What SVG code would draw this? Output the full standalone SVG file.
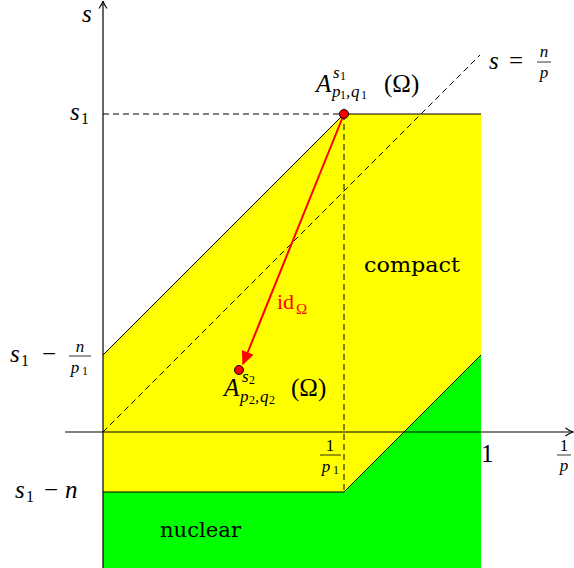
<svg xmlns="http://www.w3.org/2000/svg" width="574" height="568" viewBox="0 0 574 568">
<style>
.t{font-family:"Liberation Serif","DejaVu Serif",serif;fill:#000}
.w{font-family:"DejaVu Serif","Liberation Serif",serif;fill:#000}
.i{font-style:italic}
.ax{stroke:#000;stroke-width:1.2;fill:none}
.dash{stroke:#000;stroke-width:1;stroke-dasharray:6,4;fill:none}
.edge{stroke:#000;stroke-width:1;fill:none}
.fr{stroke:#000;stroke-width:0.8}
</style>
<defs>
<marker id="ah" viewBox="0 0 10 10" refX="9.5" refY="5" markerWidth="10" markerHeight="10" markerUnits="userSpaceOnUse" orient="auto">
<path d="M2,1 Q6,4 9.5,5 Q6,6 2,9" fill="none" stroke="#000" stroke-width="1.1"/>
</marker>
<marker id="ahr" viewBox="0 0 10 10" refX="9" refY="5" markerWidth="14" markerHeight="14" markerUnits="userSpaceOnUse" orient="auto">
<path d="M0,0.5 L10,5 L0,9.5 Z" fill="#f00"/>
</marker>
</defs>
<g id="yellow-region">
<polygon points="103,355 344,114 481,114 481,355 344,492 103,492" fill="#ff0"/>
<polyline points="103,355 344,114 481,114" class="edge"/>
</g>
<g id="green-region">
<polygon points="103,492 344,492 481,355 481,568 103,568" fill="#0f0"/>
<polyline points="103,492 344,492 481,355" class="edge"/>
</g>
<g id="connectors">
<line x1="103" y1="568" x2="103" y2="1" class="ax" marker-end="url(#ah)"/>
<line x1="65" y1="432" x2="573" y2="432" class="ax" marker-end="url(#ah)"/>
<line x1="103" y1="432" x2="480" y2="55" class="dash"/>
<line x1="103" y1="114" x2="344" y2="114" class="dash"/>
<line x1="344" y1="114" x2="344" y2="492" class="dash"/>
<line x1="344" y1="114" x2="243" y2="364" stroke="#f00" stroke-width="2" marker-end="url(#ahr)"/>
</g>
<g id="point1"><circle cx="344" cy="114" r="4.5" fill="#f00" stroke="#000" stroke-width="1"/>
<text class="t i" x="316" y="92" font-size="25">A</text>
<text class="t i" x="333" y="78" font-size="17">s</text>
<text class="t" x="340" y="80" font-size="12">1</text>
<text class="t i" x="332" y="97" font-size="17">p</text>
<text class="t" x="340" y="99" font-size="12">1</text>
<text class="t i" x="346" y="97" font-size="17">,</text>
<text class="t i" x="351" y="97" font-size="17">q</text>
<text class="t" x="361" y="99" font-size="12">1</text>
<text class="t" x="384" y="92" font-size="25">(Ω)</text>
</g>
<g id="point2"><circle cx="239" cy="370" r="4.5" fill="#f00" stroke="#000" stroke-width="1"/>
<text class="t i" x="224" y="396" font-size="25">A</text>
<text class="t i" x="242" y="382" font-size="17">s</text>
<text class="t" x="249" y="384" font-size="12">2</text>
<text class="t i" x="240" y="402" font-size="17">p</text>
<text class="t" x="249" y="404" font-size="12">2</text>
<text class="t i" x="255" y="402" font-size="17">,</text>
<text class="t i" x="260" y="402" font-size="17">q</text>
<text class="t" x="269" y="404" font-size="12">2</text>
<text class="t" x="291" y="396" font-size="25">(Ω)</text>
</g>
<g id="id-label"><text class="t" x="277" y="309" font-size="22" style="fill:#f00">id</text><text class="t" x="296" y="314" font-size="15" style="fill:#f00">Ω</text></g>
<g id="labels">
<text class="t i" x="82" y="22" font-size="25">s</text>
<text class="t i" x="70" y="120" font-size="25">s</text><text class="t" x="81" y="124" font-size="16">1</text>
<text class="t i" x="10" y="362" font-size="25">s</text><text class="t" x="21" y="366" font-size="16">1</text>
<text class="t" x="42" y="362" font-size="25">−</text>
<text class="t i" x="80" y="352" font-size="17" text-anchor="middle">n</text>
<line x1="69" y1="356" x2="91" y2="356" class="fr"/>
<text class="t i" x="75" y="373" font-size="17" text-anchor="middle">p</text><text class="t" x="85" y="375" font-size="12" text-anchor="middle">1</text>
<text class="t i" x="15" y="498" font-size="25">s</text><text class="t" x="26" y="502" font-size="16">1</text>
<text class="t" x="44" y="498" font-size="25">−</text>
<text class="t i" x="65" y="498" font-size="25">n</text>
<text class="t" x="330" y="451" font-size="17" text-anchor="middle">1</text>
<line x1="320" y1="455" x2="341" y2="455" class="fr"/>
<text class="t i" x="326" y="472" font-size="17" text-anchor="middle">p</text><text class="t" x="336" y="474" font-size="12" text-anchor="middle">1</text>
<text class="t" x="481" y="462" font-size="25">1</text>
<text class="t" x="564" y="451" font-size="17" text-anchor="middle">1</text>
<line x1="557" y1="455" x2="571" y2="455" class="fr"/>
<text class="t i" x="564" y="471" font-size="17" text-anchor="middle">p</text>
<text class="t i" x="489" y="69" font-size="25">s</text>
<text class="t" x="509" y="69" font-size="25">=</text>
<text class="t i" x="544" y="57" font-size="17" text-anchor="middle">n</text>
<line x1="537" y1="62" x2="551" y2="62" class="fr"/>
<text class="t i" x="544" y="78" font-size="17" text-anchor="middle">p</text>
<text class="w" x="364" y="272" font-size="21" textLength="96" lengthAdjust="spacingAndGlyphs">compact</text>
<text class="w" x="160" y="537" font-size="21" textLength="81" lengthAdjust="spacingAndGlyphs">nuclear</text>
</g>
</svg>
